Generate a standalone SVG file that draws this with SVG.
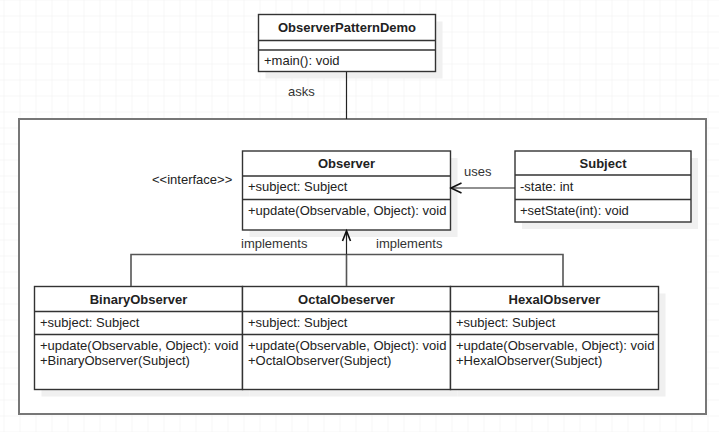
<svg xmlns="http://www.w3.org/2000/svg" width="719" height="432" viewBox="0 0 719 432">
  <defs>
    <pattern id="grid" x="3.5" y="15.5" width="16" height="16" patternUnits="userSpaceOnUse">
      <path d="M0 0 H16 M0 0 V16" fill="none" stroke="#efefef" stroke-width="1"/>
    </pattern>
  </defs>
  <style>
    text { font-family: "Liberation Sans", Arial, sans-serif; font-size: 13px; fill: #222; }
    .title { font-weight: bold; text-anchor: middle; }
    .box { fill: #fff; stroke: #333; stroke-width: 1.4; }
    .shadow { fill: #f0f0f0; }
    .div { stroke: #333; stroke-width: 1.4; }
    .edge { fill: none; stroke: #222; stroke-width: 1.2; }
    .head { fill: none; stroke: #111; stroke-width: 1.6; }
    .gen { fill: none; stroke: #555; stroke-width: 1.6; }
    .lbl { fill: #333; }
  </style>

  <!-- background grid -->
  <rect width="719" height="432" fill="#fff"/>
  <rect width="719" height="432" fill="url(#grid)"/>

  <!-- package frame -->
  <g id="frame">
    <rect x="19" y="119" width="687" height="295" fill="#fff" stroke="#777" stroke-width="2"/>
  </g>

  <g id="ObserverPatternDemo">
    <rect class="shadow" x="265.5" y="21.5" width="177" height="57"/>
    <rect class="box" x="258.5" y="14.5" width="177" height="57"/>
    <path class="div" d="M258.5 40.5 H435.5 M258.5 50 H435.5"/>
    <text class="title" x="347" y="32">ObserverPatternDemo</text>
    <text x="264" y="65">+main(): void</text>
  </g>

  <g id="Observer">
    <text x="152" y="184">&lt;&lt;interface&gt;&gt;</text>
    <rect class="shadow" x="249.5" y="158" width="208" height="79"/>
    <rect class="box" x="242.5" y="151" width="208" height="79"/>
    <path class="div" d="M242.5 176 H450.5 M242.5 199.5 H450.5"/>
    <text class="title" x="346.5" y="168">Observer</text>
    <text x="248" y="191">+subject: Subject</text>
    <text x="248" y="215">+update(Observable, Object): void</text>
  </g>

  <g id="Subject">
    <rect class="shadow" x="522" y="158" width="176" height="71"/>
    <rect class="box" x="515" y="151" width="176" height="71"/>
    <path class="div" d="M515 175 H691 M515 199.5 H691"/>
    <text class="title" x="603" y="167.5">Subject</text>
    <text x="520" y="191">-state: int</text>
    <text x="520" y="215">+setState(int): void</text>
  </g>

  <g id="BinaryObserver">
    <rect class="shadow" x="41.5" y="293.5" width="208" height="103"/>
    <rect class="box" x="34.5" y="286.5" width="208" height="103"/>
    <path class="div" d="M34.5 311.5 H242.5 M34.5 334.5 H242.5"/>
    <text class="title" x="138.5" y="304">BinaryObserver</text>
    <text x="40" y="327">+subject: Subject</text>
    <text x="40" y="350">+update(Observable, Object): void</text>
    <text x="40" y="365">+BinaryObserver(Subject)</text>
  </g>

  <g id="OctalObeserver">
    <rect class="shadow" x="249.5" y="293.5" width="208" height="103"/>
    <rect class="box" x="242.5" y="286.5" width="208" height="103"/>
    <path class="div" d="M242.5 311.5 H450.5 M242.5 334.5 H450.5"/>
    <text class="title" x="346.5" y="304">OctalObeserver</text>
    <text x="248" y="327">+subject: Subject</text>
    <text x="248" y="350">+update(Observable, Object): void</text>
    <text x="248" y="365">+OctalObserver(Subject)</text>
  </g>

  <g id="HexalObserver">
    <rect class="shadow" x="457.5" y="293.5" width="208" height="103"/>
    <rect class="box" x="450.5" y="286.5" width="208" height="103"/>
    <path class="div" d="M450.5 311.5 H658.5 M450.5 334.5 H658.5"/>
    <text class="title" x="554.5" y="304">HexalObserver</text>
    <text x="456" y="327">+subject: Subject</text>
    <text x="456" y="350">+update(Observable, Object): void</text>
    <text x="456" y="365">+HexalObserver(Subject)</text>
  </g>

  <!-- connectors drawn over the shadows -->
  <g id="connectors">
    <path class="edge" d="M346.5 72 V119"/>
    <text class="lbl" x="288" y="96">asks</text>
    <path class="edge" d="M515 188 H451"/>
    <path class="head" d="M461.5 183 L451 188 L461.5 193"/>
    <text class="lbl" x="464" y="176">uses</text>
    <path class="gen" d="M131 286 V254.5 H563 V286 M346.5 286 V254.5"/>
    <path class="edge" d="M346.5 254.5 V231"/>
    <path class="head" d="M342.5 241 L346.5 231 L350.5 241"/>
    <text class="lbl" x="241" y="247.5">implements</text>
    <text class="lbl" x="376" y="247.5">implements</text>
  </g>
</svg>
